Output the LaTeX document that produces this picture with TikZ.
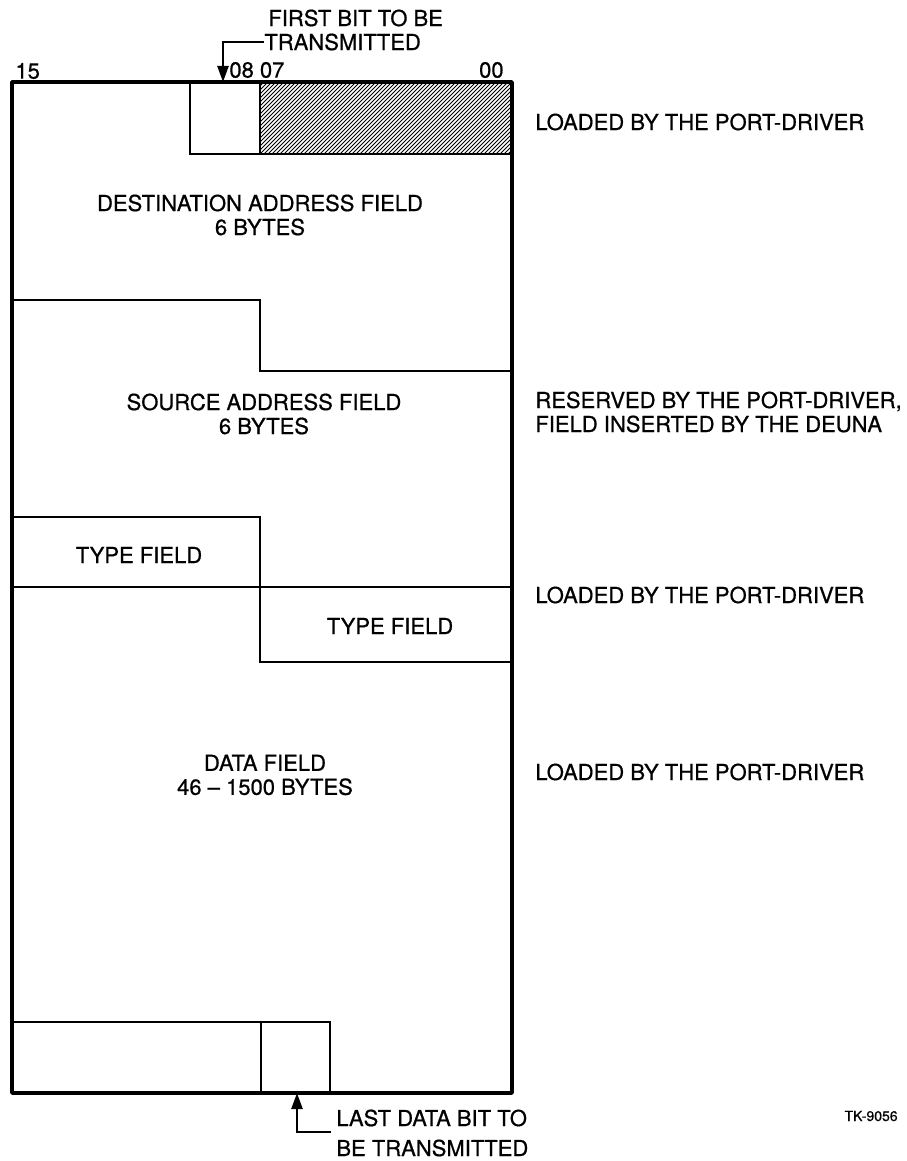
\documentclass[tikz,border=0pt]{standalone}
\usepackage{fontspec}
\setmainfont{TeX Gyre Heros}[FakeBold=0.7]
\usetikzlibrary{arrows.meta}
\begin{document}
\begin{tikzpicture}[x=0.5pt,y=-0.5pt,
  lbl/.style={font=\fontsize{11}{12}\selectfont, inner sep=0pt},
  small/.style={font=\fontsize{7}{8}\selectfont, inner sep=0pt},
  frame/.style={line width=1.8pt, line join=round},
  inner/.style={line width=1.2pt},
  hatch/.style={line width=0.5pt},
  tip/.style={-{Triangle[length=8pt,width=5.5pt]}, line width=1.2pt}]
\useasboundingbox (0,0) rectangle (906,1161);

% hatched byte (bits 07-00 of first word)
\begin{scope}
  \clip (260,82) rectangle (512,154);
  \foreach \i in {184,188,...,516} \draw[hatch] (\i,154) -- (\i+72,82);
\end{scope}

% outer frame
\draw[frame] (12,82) rectangle (512,1093);

% inner field boundaries
\draw[inner] (190,82) -- (190,154) -- (512,154);
\draw[inner] (260,82) -- (260,154);
\draw[inner] (12,300) -- (260,300) -- (260,371) -- (512,371);
\draw[inner] (12,517) -- (260,517) -- (260,662) -- (512,662);
\draw[inner] (12,587) -- (512,587);
\draw[inner] (12,1022) -- (330,1022) -- (330,1093);
\draw[inner] (261,1022) -- (261,1093);

% bit numbers
\node[lbl, anchor=west] (b15) at (15,71) {15};
\node[lbl, anchor=west] (b0807) at (229,70) {08 07};
\node[lbl, anchor=east] (b00) at (504,70) {00};

% first bit label
\node[lbl, anchor=west] (first1) at (268,18) {FIRST BIT TO BE};
\node[lbl, anchor=west] (first2) at (264,42) {TRANSMITTED};
\coordinate (firstbit) at (223,82);
\draw[tip] (first2.west) -| (firstbit);

% field texts
\node[lbl, align=center] (dest) at (260,215) {DESTINATION ADDRESS FIELD\\6 BYTES};
\node[lbl, align=center] (src) at (264,414) {SOURCE ADDRESS FIELD\\6 BYTES};
\node[lbl] (type1) at (139,555) {TYPE FIELD};
\node[lbl] (type2) at (390,626) {TYPE FIELD};
\node[lbl, align=center] (data) at (265,775) {DATA FIELD\\46 -- 1500 BYTES};

% right-hand notes
\node[lbl, anchor=west] (r1) at (535,122) {LOADED BY THE PORT-DRIVER};
\node[lbl, anchor=west, align=left] (r2) at (535,412) {RESERVED BY THE PORT-DRIVER,\\FIELD INSERTED BY THE DEUNA};
\node[lbl, anchor=west] (r3) at (535,595) {LOADED BY THE PORT-DRIVER};
\node[lbl, anchor=west] (r4) at (535,772) {LOADED BY THE PORT-DRIVER};

% last bit label
\node[lbl, anchor=west] (last1) at (336,1118) {LAST DATA BIT TO};
\node[lbl, anchor=west] (last2) at (336,1148) {BE TRANSMITTED};
\coordinate (lastlead) at (331,1132);
\coordinate (lastbit) at (297,1093);
\draw[tip] (lastlead) -| (lastbit);

\node[small, anchor=east] (tk) at (898,1116) {TK-9056};
\end{tikzpicture}
\end{document}
